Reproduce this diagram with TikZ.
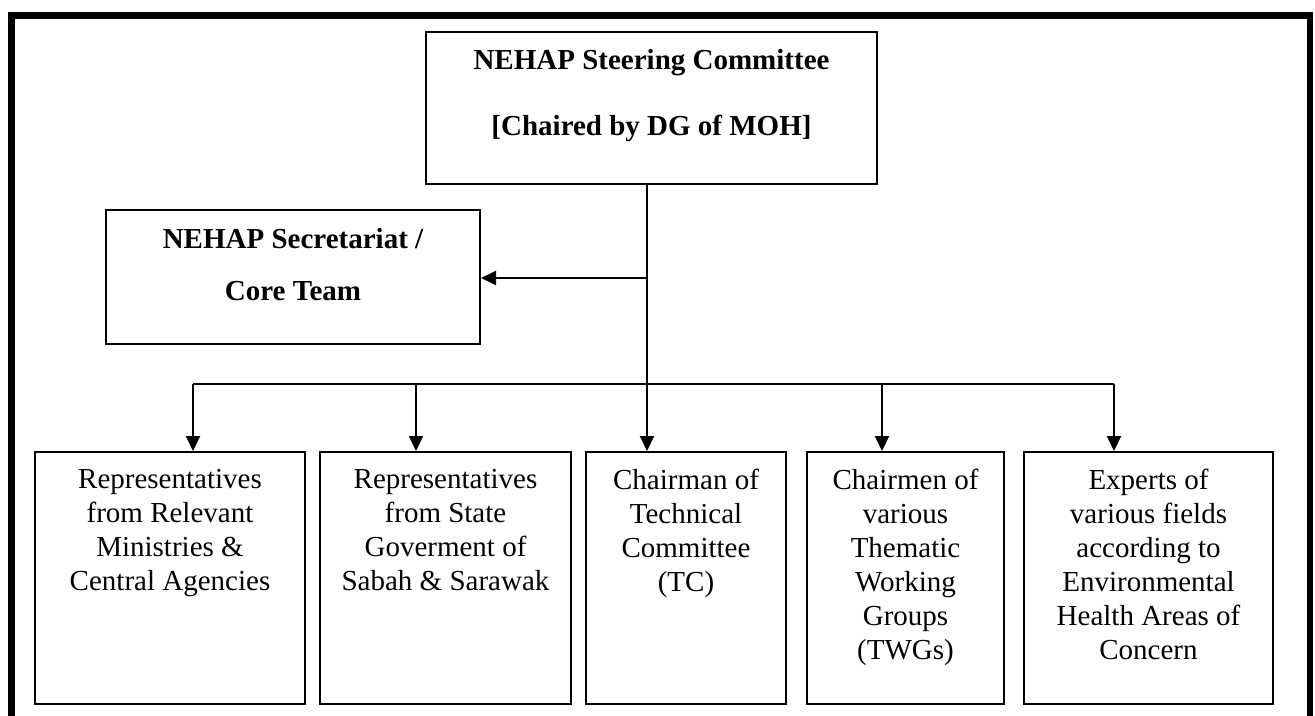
\documentclass[tikz,border=0pt]{standalone}
\usepackage{fontspec}
\setmainfont{Liberation Serif}
\usetikzlibrary{arrows.meta, positioning, calc}

\tikzset{
  box/.style={draw, line width=1pt, inner sep=0pt, anchor=north west},
  txt/.style={align=center, inner sep=0pt, font=\fontsize{14.5}{17}\selectfont},
  head/.style={align=center, inner sep=0pt, font=\bfseries\fontsize{14.5}{33}\selectfont},
}

\begin{document}
\begin{tikzpicture}[x=0.5pt, y=-0.5pt, >={Triangle[length=7.5pt, width=7pt]}, line width=1pt]

\useasboundingbox (0,0) rectangle (1315,716);

% outer frame (bottom edge runs off the page)
\draw[line width=3.2pt] (11.5,760) -- (11.5,15.5) -- (1310,15.5) -- (1310,760);

% steering committee and secretariat
\node[box, minimum width=225.5pt, minimum height=76pt] (steer) at (425,31) {};
\node[head, below=8.5pt of steer.north] (steertxt) {NEHAP Steering Committee\\{}[Chaired by DG of MOH]};

\node[box, minimum width=187pt, minimum height=67pt] (sec) at (105,209) {};
\node[head, font=\bfseries\fontsize{14.5}{26}\selectfont, below=9pt of sec.north] (sectxt) {NEHAP Secretariat /\\Core Team};

% members
\node[box, minimum width=135pt, minimum height=126pt] (rep) at (34,451) {};
\node[box, minimum width=125.5pt, minimum height=126pt] (state) at (319,451) {};
\node[box, minimum width=100pt, minimum height=126pt] (tc) at (585,451) {};
\node[box, minimum width=98.5pt, minimum height=126pt] (twg) at (806,451) {};
\node[box, minimum width=124.5pt, minimum height=126pt] (expert) at (1023,451) {};

\node[txt, below=8.5pt of rep.north] (reptxt) {Representatives\\from Relevant\\Ministries \&\\Central Agencies};
\node[txt, below=8.5pt of state.north] (statetxt) {Representatives\\from State\\Goverment of\\Sabah \& Sarawak};
\node[txt, below=8.5pt of tc.north] (tctxt) {Chairman of\\Technical\\Committee\\(TC)};
\node[txt, below=8.5pt of twg.north] (twgtxt) {Chairmen of\\various\\Thematic\\Working\\Groups\\(TWGs)};
\node[txt, below=8.5pt of expert.north] (experttxt) {Experts of\\various fields\\according to\\Environmental\\Health Areas of\\Concern};

% connectors
\coordinate (split) at (647,278);
\coordinate (hub) at (647,384);
\coordinate (a1) at (193,384);
\coordinate (a2) at (416,384);
\coordinate (a4) at (882,384);
\coordinate (a5) at (1114,384);

\draw (steer.south -| hub) -- (hub);
\draw[->] (split) -- (sec.east |- split);
\draw (a1) -- (a5);

\draw[->] (a1) -- (a1 |- rep.north);
\draw[->] (a2) -- (a2 |- state.north);
\draw[->] (hub) -- (hub |- tc.north);
\draw[->] (a4) -- (a4 |- twg.north);
\draw[->] (a5) -- (a5 |- expert.north);

\end{tikzpicture}
\end{document}
